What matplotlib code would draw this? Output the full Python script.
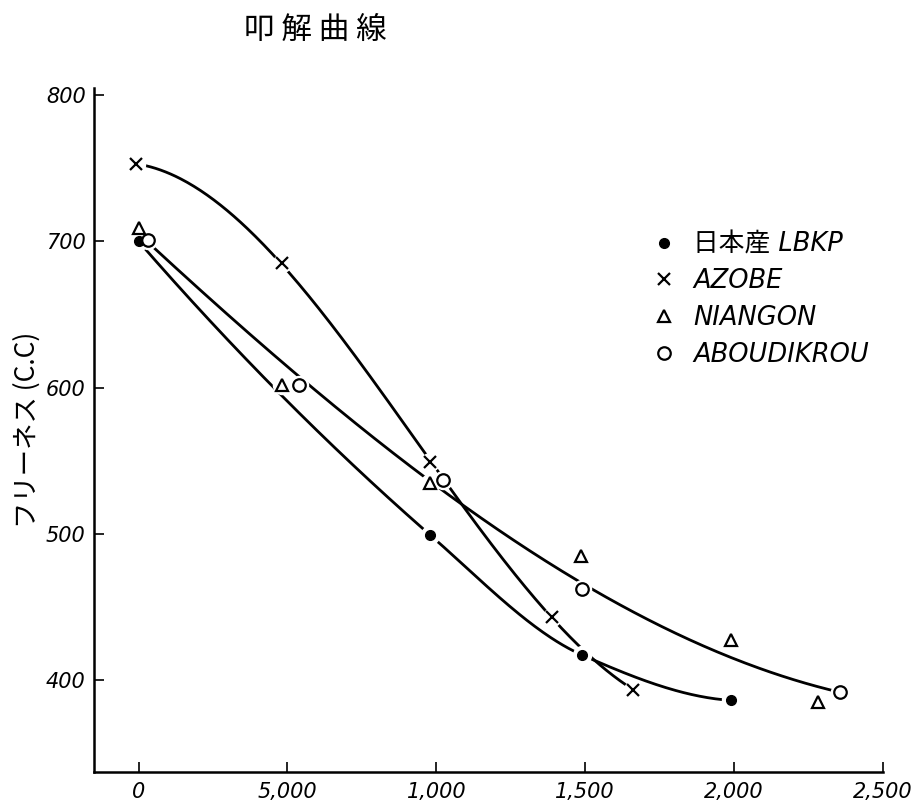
import numpy as np
import matplotlib.pyplot as plt
from matplotlib.font_manager import FontProperties

# 叩解曲線 -- freeness against beating
lbkp_x = [0, 980, 1490, 1990]
lbkp_y = [700, 499, 417, 386]

azobe_x = [-10, 480, 980, 1390, 1661]
azobe_y = [753, 685, 549, 443, 393]

niangon_x = [0, 483, 978, 1487, 1990, 2282]
niangon_y = [709, 602, 535, 485, 427, 385]

abou_x = [30, 540, 1023, 1490, 2356]
abou_y = [701, 602, 537, 462, 392]

xticks = [0, 500, 1000, 1500, 2000, 2500]
xticklabels = ["0", "5,000", "1,000", "1,500", "2,000", "2,500"]
yticks = [400, 500, 600, 700, 800]
yticklabels = ["400", "500", "600", "700", "800"]

title = "叩 解 曲 線"
ylabel = "フリーネス (C.C)"
names = ["日本産 LBKP", "AZOBE", "NIANGON", "ABOUDIKROU"]


def pchip(x, y, xs):
    # monotone cubic (Fritsch-Carlson), just to draw a smooth hand curve
    x = np.asarray(x, float)
    y = np.asarray(y, float)
    h = np.diff(x)
    d = np.diff(y) / h
    n = len(x)
    m = np.zeros(n)
    for k in range(1, n - 1):
        if d[k - 1] * d[k] > 0:
            w1 = 2 * h[k] + h[k - 1]
            w2 = h[k] + 2 * h[k - 1]
            m[k] = (w1 + w2) / (w1 / d[k - 1] + w2 / d[k])
    for i, j, hi, hj in [(0, 1, h[0], h[1]), (-1, -2, h[-1], h[-2])]:
        e = ((2 * hi + hj) * d[i] - hi * d[j]) / (hi + hj)
        if np.sign(e) != np.sign(d[i]):
            e = 0.0
        elif np.sign(d[i]) != np.sign(d[j]) and abs(e) > 3 * abs(d[i]):
            e = 3 * d[i]
        m[i] = e
    k = np.clip(np.searchsorted(x, xs) - 1, 0, n - 2)
    t = (xs - x[k]) / h[k]
    h00 = 2 * t**3 - 3 * t**2 + 1
    h10 = t**3 - 2 * t**2 + t
    h01 = -2 * t**3 + 3 * t**2
    h11 = t**3 - t**2
    return h00 * y[k] + h10 * h[k] * m[k] + h01 * y[k + 1] + h11 * h[k] * m[k + 1]


def curve(ax, x, y, fit=None):
    # fit=None: smooth curve through the marks, else least squares poly
    xs = np.linspace(min(x), max(x), 300)
    if fit is None:
        ys = pchip(x, y, xs)
    else:
        ys = np.polyval(np.polyfit(x, y, fit), xs)
    ax.plot(xs, ys, color="black", lw=2.0, zorder=1, solid_capstyle="round")


def main():
    cjk = ["Noto Sans CJK JP", "DejaVu Sans"]
    fig = plt.figure(figsize=(9.15, 8.1), dpi=100)
    ax = fig.add_axes([0.1027, 0.0469, 0.8623, 0.8445])

    curve(ax, lbkp_x, lbkp_y)
    curve(ax, azobe_x, azobe_y, fit=3)
    curve(ax, abou_x, abou_y, fit=3)

    # little white halos so the lines break at the marks, like the drawing
    for xx, yy in [(lbkp_x, lbkp_y), (azobe_x, azobe_y),
                   (niangon_x, niangon_y), (abou_x, abou_y)]:
        ax.plot(xx, yy, ls="none", marker="o", ms=13, color="white",
                zorder=2)

    ax.plot(lbkp_x, lbkp_y, ls="none", marker="o", ms=7, color="black",
            zorder=3, label=names[0])
    ax.plot(azobe_x, azobe_y, ls="none", marker="x", ms=9, mew=1.6,
            color="black", zorder=3, label=names[1])
    ax.plot(niangon_x, niangon_y, ls="none", marker="^", ms=9, mew=1.6,
            mfc="white", mec="black", zorder=3, label=names[2])
    ax.plot(abou_x, abou_y, ls="none", marker="o", ms=9, mew=1.6,
            mfc="white", mec="black", zorder=3, label=names[3])

    ax.set_xlim(-150, 2500)
    ax.set_ylim(337, 805)
    ax.set_xticks(xticks)
    ax.set_xticklabels(xticklabels)
    ax.set_yticks(yticks)
    ax.set_yticklabels(yticklabels)

    for s in ["top", "right"]:
        ax.spines[s].set_visible(False)
    for s in ["left", "bottom"]:
        ax.spines[s].set_linewidth(1.8)
    ax.tick_params(direction="in", length=7, width=1.2, labelsize=15)
    ax.tick_params(axis="x", pad=7)
    ax.tick_params(axis="y", pad=6)
    for lab in ax.get_xticklabels() + ax.get_yticklabels():
        lab.set_fontstyle("italic")

    ax.set_ylabel(ylabel, family=cjk, fontsize=19, labelpad=4)

    fig.text(0.345, 0.963, title, family=cjk, fontsize=22,
             ha="center", va="center")

    prop = FontProperties(family=["DejaVu Sans", "Noto Sans CJK JP"],
                          style="italic", size=18.5)
    ax.legend(loc="upper left", bbox_to_anchor=(0.696, 0.805), frameon=False,
              prop=prop, handlelength=0.8, handletextpad=0.75,
              labelspacing=0.42, borderaxespad=0.0, numpoints=1)

    fig.savefig("out.png", dpi=100)


if __name__ == "__main__":
    main()
